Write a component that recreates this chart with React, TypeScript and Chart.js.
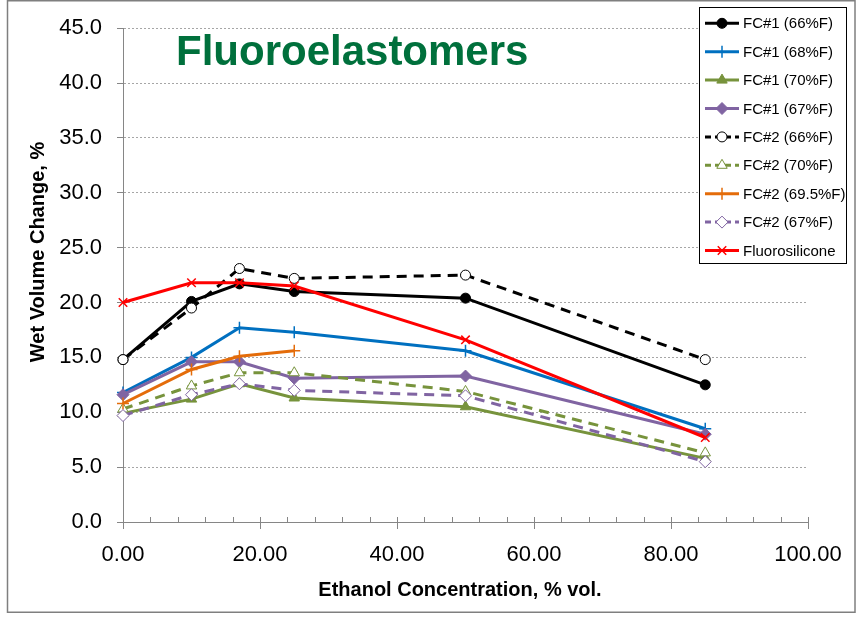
import React, { useEffect, useRef } from 'react';
import { Chart, registerables } from 'chart.js';
import { drawPoint } from 'chart.js/helpers';

Chart.register(...registerables);

// ---- data ----
const ethanol = [0, 10, 17, 25, 50, 85];
const ethanolFc2_695 = [0, 10, 17, 25];

const fc1_66 = [14.8, 20.1, 21.7, 21.0, 20.4, 12.5];
const fc1_68 = [11.8, 15.0, 17.7, 17.3, 15.6, 8.5];
const fc1_70 = [9.9, 11.2, 12.6, 11.3, 10.5, 5.8];
const fc1_67 = [11.6, 14.6, 14.6, 13.1, 13.3, 8.0];
const fc2_66 = [14.8, 19.5, 23.1, 22.2, 22.5, 14.8];
const fc2_70 = [10.3, 12.4, 13.6, 13.6, 11.9, 6.3];
const fc2_695 = [10.8, 13.9, 15.1, 15.6];
const fc2_67 = [9.7, 11.6, 12.6, 12.0, 11.5, 5.5];
const fluorosilicone = [20.0, 21.8, 21.8, 21.5, 16.6, 7.7];

const seriesLabels = [
  'FC#1 (66%F)',
  'FC#1 (68%F)',
  'FC#1 (70%F)',
  'FC#1 (67%F)',
  'FC#2 (66%F)',
  'FC#2 (70%F)',
  'FC#2 (69.5%F)',
  'FC#2 (67%F)',
  'Fluorosilicone',
];

const yTicksMin = 0;
const yTicksMax = 45;
const yStep = 5;
const xMin = 0;
const xMax = 100;
const xStep = 20;
const xMinorStep = 4;

const chartTitle = 'Fluoroelastomers';
const xTitle = 'Ethanol Concentration, % vol.';
const yTitle = 'Wet Volume Change, %';

const BLACK = '#000000';
const BLUE = '#0070C0';
const GREEN = '#77933C';
const PURPLE = '#8064A2';
const ORANGE = '#E46C0A';
const RED = '#FF0000';
const FONT = '"Liberation Sans", Arial, sans-serif';

function pts(xs: number[], ys: number[]) {
  return ys.map((y, i) => ({ x: xs[i], y }));
}

type Style = {
  color: string;
  dash: number[];
  pointStyle: string;
  radius: number;
  fill: string;
  pbw: number;
};

const styles: Style[] = [
  { color: BLACK, dash: [], pointStyle: 'circle', radius: 5, fill: BLACK, pbw: 1 },
  { color: BLUE, dash: [], pointStyle: 'cross', radius: 6, fill: BLUE, pbw: 1.5 },
  { color: GREEN, dash: [], pointStyle: 'triangle', radius: 6, fill: GREEN, pbw: 1 },
  { color: PURPLE, dash: [], pointStyle: 'rectRot', radius: 6, fill: PURPLE, pbw: 1 },
  { color: BLACK, dash: [10, 7], pointStyle: 'circle', radius: 5, fill: '#FFFFFF', pbw: 1 },
  { color: GREEN, dash: [10, 7], pointStyle: 'triangle', radius: 6, fill: '#FFFFFF', pbw: 1 },
  { color: ORANGE, dash: [], pointStyle: 'cross', radius: 6, fill: ORANGE, pbw: 1.5 },
  { color: PURPLE, dash: [10, 7], pointStyle: 'rectRot', radius: 6, fill: '#FFFFFF', pbw: 1 },
  { color: RED, dash: [], pointStyle: 'crossRot', radius: 6, fill: RED, pbw: 1.5 },
];

const seriesData = [
  pts(ethanol, fc1_66),
  pts(ethanol, fc1_68),
  pts(ethanol, fc1_70),
  pts(ethanol, fc1_67),
  pts(ethanol, fc2_66),
  pts(ethanol, fc2_70),
  pts(ethanolFc2_695, fc2_695),
  pts(ethanol, fc2_67),
  pts(ethanol, fluorosilicone),
];

const decorPlugin = {
  id: 'decor',
  beforeDraw(chart: any) {
    const ctx = chart.ctx;
    ctx.save();
    ctx.fillStyle = '#FFFFFF';
    ctx.fillRect(0, 0, chart.width, chart.height);
    ctx.restore();
  },
  afterDraw(chart: any) {
    const ctx = chart.ctx;
    const area = chart.chartArea;
    const xs = chart.scales.x;
    ctx.save();

    // inner parts of x ticks (major + minor)
    ctx.strokeStyle = '#868686';
    ctx.lineWidth = 1;
    ctx.beginPath();
    for (let v = xMin + xMinorStep; v < xMax + 0.001; v += xMinorStep) {
      const px = Math.round(xs.getPixelForValue(v)) + 0.5;
      ctx.moveTo(px, area.bottom - 5);
      ctx.lineTo(px, area.bottom);
    }
    ctx.stroke();

    // chart title
    ctx.fillStyle = '#00703C';
    ctx.font = 'bold 42px ' + FONT;
    ctx.textAlign = 'left';
    ctx.textBaseline = 'alphabetic';
    ctx.fillText(chartTitle, 176, 65);

    // axis titles
    ctx.fillStyle = '#000000';
    ctx.font = 'bold 20px ' + FONT;
    ctx.textAlign = 'center';
    ctx.textBaseline = 'middle';
    ctx.fillText(xTitle, 460, 590);
    ctx.save();
    ctx.translate(38, 252);
    ctx.rotate(-Math.PI / 2);
    ctx.fillText(yTitle, 0, 0);
    ctx.restore();

    // legend box
    const lx = 699.5, ly = 7.5, lw = 147, lh = 256;
    ctx.fillStyle = '#FFFFFF';
    ctx.fillRect(lx, ly, lw, lh);
    ctx.strokeStyle = '#000000';
    ctx.lineWidth = 1;
    ctx.strokeRect(lx, ly, lw, lh);

    ctx.font = '15px ' + FONT;
    ctx.textAlign = 'left';
    ctx.textBaseline = 'middle';
    chart.data.datasets.forEach((ds: any, i: number) => {
      const st = styles[i];
      const cy = 23.3 + i * 28.4;
      ctx.save();
      ctx.strokeStyle = st.color;
      ctx.lineWidth = 3;
      ctx.setLineDash(st.dash.length ? [6, 4] : []);
      ctx.beginPath();
      ctx.moveTo(705, cy);
      ctx.lineTo(739, cy);
      ctx.stroke();
      ctx.setLineDash([]);
      ctx.fillStyle = st.fill;
      ctx.strokeStyle = st.color;
      ctx.lineWidth = st.pbw;
      drawPoint(ctx, { pointStyle: st.pointStyle, radius: st.radius, rotation: 0, borderWidth: st.pbw } as any, 722, cy);
      ctx.restore();
      ctx.fillStyle = '#000000';
      ctx.fillText(ds.label, 743, cy + 1);
    });

    // outer frame
    ctx.strokeStyle = '#7F7F7F';
    ctx.lineWidth = 1.5;
    ctx.strokeRect(7.5, 0.75, 847.5, 611.5);
    ctx.restore();
  },
};

export default function App() {
  const ref = useRef<HTMLCanvasElement | null>(null);

  useEffect(() => {
    const canvas = ref.current;
    if (!canvas) return;
    const n = seriesData.length;
    const chart = new Chart(canvas, {
      type: 'line',
      data: {
        datasets: seriesData.map((d, i) => {
          const st = styles[i];
          return {
            label: seriesLabels[i],
            data: d,
            borderColor: st.color,
            backgroundColor: st.fill,
            borderWidth: 3,
            borderDash: st.dash,
            tension: 0,
            fill: false,
            clip: false as any,
            pointStyle: st.pointStyle as any,
            pointRadius: st.radius,
            pointBackgroundColor: st.fill,
            pointBorderColor: st.color,
            pointBorderWidth: st.pbw,
            order: n - i,
          };
        }),
      },
      options: {
        responsive: false,
        animation: false,
        devicePixelRatio: 1,
        layout: { padding: { top: 21, right: 48, bottom: 0, left: 0 } },
        plugins: {
          legend: { display: false },
          tooltip: { enabled: false },
          title: { display: false },
        },
        scales: {
          x: {
            type: 'linear',
            min: xMin,
            max: xMax,
            afterFit: (s: any) => {
              s.height = 98;
            },
            ticks: {
              stepSize: xStep,
              padding: 13,
              color: '#000000',
              font: { family: FONT, size: 22 },
              callback: (v: any) => Number(v).toFixed(2),
            },
            grid: {
              display: true,
              drawOnChartArea: false,
              drawTicks: true,
              tickLength: 7,
              tickColor: '#868686',
            },
            border: { display: true, color: '#868686', width: 1 },
          },
          y: {
            type: 'linear',
            min: yTicksMin,
            max: yTicksMax,
            afterFit: (s: any) => {
              s.width = 123;
            },
            ticks: {
              stepSize: yStep,
              padding: 15,
              color: '#000000',
              font: { family: FONT, size: 22 },
              callback: (v: any) => Number(v).toFixed(1),
            },
            grid: {
              display: true,
              drawOnChartArea: true,
              drawTicks: true,
              tickLength: 6,
              color: '#A6A6A6',
              tickColor: '#868686',
              tickBorderDash: [],
            },
            border: { display: true, color: '#868686', width: 1, dash: [2, 2] },
          },
        },
      },
      plugins: [decorPlugin],
    });
    return () => chart.destroy();
  }, []);

  return (
    <div style={{ position: 'absolute', left: 0, top: 0, width: 856, height: 620 }}>
      <canvas ref={ref} width={856} height={620} style={{ display: 'block', width: 856, height: 620 }} />
    </div>
  );
}
